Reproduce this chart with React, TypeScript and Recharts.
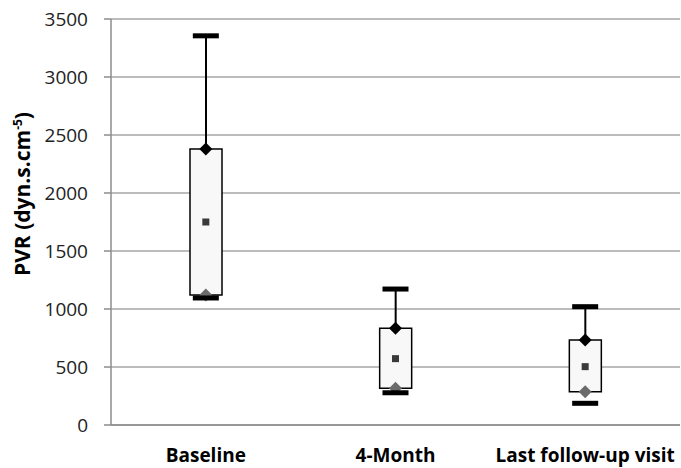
import React from 'react';
import {
  ComposedChart,
  Bar,
  Scatter,
  XAxis,
  YAxis,
  CartesianGrid,
} from 'recharts';

// PVR distribution per visit (dyn.s.cm-5)
const categories = ['Baseline', '4-Month', 'Last follow-up visit'];
const minValues = [1095, 278, 187];
const q1Values = [1120, 316, 287];
const medianValues = [1750, 572, 503];
const q3Values = [2380, 833, 733];
const maxValues = [3355, 1172, 1020];
const yTicks = [0, 500, 1000, 1500, 2000, 2500, 3000, 3500];

const rows = categories.map((name, i) => ({
  name,
  min: minValues[i],
  q1: q1Values[i],
  median: medianValues[i],
  q3: q3Values[i],
  max: maxValues[i],
  base: q1Values[i],
  box: q3Values[i] - q1Values[i],
  whisker: maxValues[i] - q3Values[i],
}));

const FONT = '"Open Sans", Lato, sans-serif';

const WhiskerShape = (p: any) => {
  const cx = p.x + p.width / 2;
  return <line x1={cx} x2={cx} y1={p.y} y2={p.y + p.height} stroke="#000" strokeWidth={2} />;
};

const Diamond = (color: string) => (p: any) => {
  const r = 6.5;
  return (
    <path
      d={`M${p.cx},${p.cy - r}L${p.cx + r},${p.cy}L${p.cx},${p.cy + r}L${p.cx - r},${p.cy}Z`}
      fill={color}
    />
  );
};

const MedianSquare = (p: any) => (
  <rect x={p.cx - 3.5} y={p.cy - 3.5} width={7} height={7} fill="#3a3a3a" />
);

const Cap = (p: any) => (
  <rect x={p.cx - 13} y={p.cy - 2.5} width={26} height={5} fill="#000" />
);

const CategoryTick = (p: any) => (
  <text
    x={p.x}
    y={p.y + 29}
    textAnchor="middle"
    fontFamily={FONT}
    fontWeight={700}
    fontSize={19}
    fill="#000"
  >
    {p.payload.value}
  </text>
);

const AxisTitle = () => (
  <text
    transform="translate(30,194) rotate(-90)"
    textAnchor="middle"
    fontFamily={FONT}
    fontWeight={700}
    fontSize={21}
    fill="#000"
  >
    PVR (dyn.s.cm
    <tspan dy={-8} fontSize={12}>-5</tspan>
    <tspan dy={8}>)</tspan>
  </text>
);

export default function App() {
  return (
    <div style={{ position: 'absolute', left: 0, top: 0, background: '#fff' }}>
      <ComposedChart
        width={681}
        height={468}
        data={rows}
        margin={{ top: 19, right: 1, bottom: 0, left: 0 }}
      >
        <CartesianGrid vertical={false} stroke="#a6a6a6" strokeWidth={1.5} />
        <XAxis
          dataKey="name"
          height={43}
          tickLine={false}
          axisLine={{ stroke: '#8c8c8c', strokeWidth: 1.5 }}
          tick={<CategoryTick />}
          interval={0}
        />
        <YAxis
          width={111}
          domain={[0, 3500]}
          ticks={yTicks}
          tickSize={7}
          tickMargin={16}
          axisLine={{ stroke: '#8c8c8c', strokeWidth: 1.5 }}
          tickLine={{ stroke: '#8c8c8c', strokeWidth: 1.5 }}
          tick={{ fontFamily: FONT, fontSize: 19, fill: '#222' }}
          label={<AxisTitle />}
        />
        <Bar dataKey="base" stackId="s" fill="transparent" barSize={32} isAnimationActive={false} />
        <Bar
          dataKey="box"
          stackId="s"
          fill="#f8f8f8"
          stroke="#000"
          strokeWidth={1.5}
          barSize={32}
          isAnimationActive={false}
        />
        <Bar dataKey="whisker" stackId="s" shape={WhiskerShape} barSize={32} isAnimationActive={false} />
        <Scatter dataKey="q3" shape={Diamond('#000')} isAnimationActive={false} />
        <Scatter dataKey="q1" shape={Diamond('#6b6b6b')} isAnimationActive={false} />
        <Scatter dataKey="median" shape={MedianSquare} isAnimationActive={false} />
        <Scatter dataKey="max" shape={Cap} isAnimationActive={false} />
        <Scatter dataKey="min" shape={Cap} isAnimationActive={false} />
      </ComposedChart>
    </div>
  );
}
